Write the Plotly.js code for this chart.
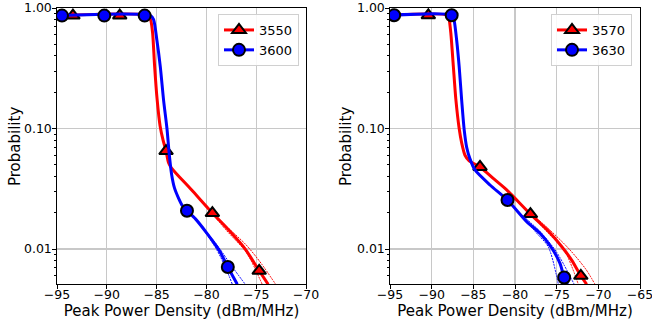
<!DOCTYPE html>
<html>
<head>
<meta charset="utf-8">
<script src="https://cdn.plot.ly/plotly-3.0.1.min.js"></script>
<style>html,body{margin:0;padding:0;background:#fff;}#chart{width:652px;height:324px;}</style>
</head>
<body>
<div id="chart"></div>
<script>
// ---------- Left panel: 3550 (red) & 3600 (blue) ----------
const leftRedX  = [-95, -85.8, -85.6, -85.4, -85.2, -84.95, -84.65, -84.35, -84.05, -83.8, -83.5, -81.5, -79.4, -77.8, -76.1, -74.7, -73.8];
const leftRedY  = [0.865, 0.865, 0.80, 0.62, 0.33, 0.175, 0.105, 0.080, 0.065, 0.052, 0.047, 0.031, 0.0199, 0.0145, 0.0100, 0.0066, 0.0051];
const leftRedMkX = [-93.4, -88.7, -84.05, -79.4, -74.7];
const leftRedMkY = [0.865, 0.865, 0.065, 0.0199, 0.0066];
const leftRedHiX = [-80.5, -78, -76, -74.5, -73.05];
const leftRedHiY = [0.0251, 0.0155, 0.0108, 0.0076, 0.0051];
const leftRedLoX = [-80.5, -78, -76, -74.4];
const leftRedLoY = [0.0251, 0.0143, 0.0094, 0.0051];

const leftBlueX = [-95, -85.6, -85.3, -84.97, -84.63, -84.3, -83.96, -83.72, -83.5, -83.2, -82.8, -82.4, -81.95, -81.1, -80.0, -78.7, -77.85, -76.9];
const leftBlueY = [0.865, 0.865, 0.80, 0.54, 0.326, 0.172, 0.100, 0.060, 0.042, 0.032, 0.0265, 0.0228, 0.0208, 0.0178, 0.0137, 0.0097, 0.0071, 0.0051];
const leftBlueMkX = [-94.5, -90.25, -86.2, -81.95, -77.85];
const leftBlueMkY = [0.865, 0.865, 0.865, 0.0208, 0.0071];
const leftBlueHiX = [-81, -79, -77.5, -76.1];
const leftBlueHiY = [0.0175, 0.0110, 0.0073, 0.0051];
const leftBlueLoX = [-81, -79, -78, -77.4];
const leftBlueLoY = [0.0175, 0.0100, 0.0068, 0.0051];

// ---------- Right panel: 3570 (red) & 3630 (blue) ----------
const rightRedX = [-95, -88.1, -87.9, -87.7, -87.4, -87.1, -86.7, -86.4, -86.0, -85.5, -84.2, -82.5, -81.0, -78.15, -76.0, -74.5, -73.2, -72.1, -71.4];
const rightRedY = [0.87, 0.87, 0.80, 0.62, 0.33, 0.175, 0.100, 0.076, 0.060, 0.054, 0.048, 0.038, 0.031, 0.0195, 0.0141, 0.0107, 0.0081, 0.0060, 0.0051];
const rightRedMkX = [-90.4, -84.2, -78.15, -72.1];
const rightRedMkY = [0.87, 0.048, 0.0195, 0.0060];
const rightRedHiX = [-79, -76, -73.5, -71.5, -70.4];
const rightRedHiY = [0.0224, 0.0148, 0.0100, 0.0068, 0.0051];
const rightRedLoX = [-79, -76, -74, -72.4];
const rightRedLoY = [0.0224, 0.0135, 0.0095, 0.0051];

const rightBlueX = [-95, -87.5, -87.3, -87.0, -86.7, -86.4, -86.1, -85.8, -85.4, -84.8, -83.0, -80.9, -78.6, -77.0, -75.6, -74.6, -74.1, -73.7];
const rightBlueY = [0.87, 0.87, 0.79, 0.54, 0.326, 0.172, 0.098, 0.070, 0.056, 0.0453, 0.034, 0.0255, 0.0169, 0.0135, 0.0102, 0.0076, 0.0058, 0.0051];
const rightBlueMkX = [-94.5, -87.6, -80.9, -74.1];
const rightBlueMkY = [0.87, 0.87, 0.0255, 0.0058];
const rightBlueHiX = [-79.5, -77, -75, -72.9];
const rightBlueHiY = [0.0200, 0.0140, 0.0094, 0.0051];
const rightBlueLoX = [-79.5, -77.5, -76, -74.8];
const rightBlueLoY = [0.0200, 0.0138, 0.0104, 0.0051];

const leftNames = ['3550', '3600'];
const rightNames = ['3570', '3630'];
const leftXTicks = [-95, -90, -85, -80, -75, -70];
const rightXTicks = [-95, -90, -85, -80, -75, -70, -65];
const yTickVals = [0.01, 0.1, 1];
const yTickText = ['0.01', '0.10', '1.00'];
const xTitle = 'Peak Power Density (dBm/MHz)';
const yTitle = 'Probability';

const RED = '#ff0000', BLUE = '#0000ff';
const FONT = 'DejaVu Sans, Verdana, sans-serif';

function series(name, color, symbol, xa, ya, lx, ly, mx, my, hx, hy, lox, loy, legend) {
  const ax = {xaxis: xa, yaxis: ya};
  const mk = {color: color, symbol: symbol, size: 12, line: {color: 'black', width: 2}};
  const band = {color: color, width: 1, dash: '2px,1px', shape: 'spline', smoothing: 0.8};
  return [
    Object.assign({x: hx, y: hy, mode: 'lines', line: band, showlegend: false, hoverinfo: 'skip'}, ax),
    Object.assign({x: lox, y: loy, mode: 'lines', line: band, showlegend: false, hoverinfo: 'skip'}, ax),
    Object.assign({x: lx, y: ly, mode: 'lines', line: {color: color, width: 3, shape: 'spline', smoothing: 0.7}, showlegend: false}, ax),
    Object.assign({x: mx, y: my, mode: 'markers', marker: mk, showlegend: false}, ax),
    Object.assign({x: [null], y: [null], mode: 'lines+markers', name: name, legend: legend,
      line: {color: color, width: 3}, marker: mk}, ax)
  ];
}

const data = [].concat(
  series(leftNames[0], RED, 'triangle-up', 'x', 'y', leftRedX, leftRedY, leftRedMkX, leftRedMkY, leftRedHiX, leftRedHiY, leftRedLoX, leftRedLoY, 'legend'),
  series(leftNames[1], BLUE, 'circle', 'x', 'y', leftBlueX, leftBlueY, leftBlueMkX, leftBlueMkY, leftBlueHiX, leftBlueHiY, leftBlueLoX, leftBlueLoY, 'legend'),
  series(rightNames[0], RED, 'triangle-up', 'x2', 'y2', rightRedX, rightRedY, rightRedMkX, rightRedMkY, rightRedHiX, rightRedHiY, rightRedLoX, rightRedLoY, 'legend2'),
  series(rightNames[1], BLUE, 'circle', 'x2', 'y2', rightBlueX, rightBlueY, rightBlueMkX, rightBlueMkY, rightBlueHiX, rightBlueHiY, rightBlueLoX, rightBlueLoY, 'legend2')
);

const W = 652, H = 324;
function xAxis(domain, range, ticks, anchor) {
  return {
    domain: domain, range: range, anchor: anchor,
    tickvals: ticks, ticktext: ticks.map(v => (v < 0 ? '\u2212' + Math.abs(v) : String(v))),
    showgrid: true, gridcolor: '#c8c8c8', gridwidth: 1.2, zeroline: false,
    showline: true, linecolor: 'black', linewidth: 1.2, mirror: true,
    ticks: 'outside', ticklen: 3.5, tickcolor: 'black', tickwidth: 1,
    ticklabelstandoff: -5, ticklabeloverflow: 'allow',
    tickfont: {family: FONT, size: 12.5, color: 'black'},
    title: {text: xTitle, font: {family: FONT, size: 15, color: 'black'}, standoff: 0},
    automargin: false, fixedrange: true
  };
}
function yAxis(anchor) {
  return {
    type: 'log', domain: [1 - 284 / H, 1 - 8 / H], range: [-2.29, 0], anchor: anchor,
    tickvals: yTickVals, ticktext: yTickText,
    showgrid: true, gridcolor: '#c8c8c8', gridwidth: 1.2, zeroline: false,
    showline: true, linecolor: 'black', linewidth: 1.2, mirror: true,
    ticks: 'outside', ticklen: 3.5, tickcolor: 'black', tickwidth: 1,
    ticklabelstandoff: -2,
    minor: {ticks: 'outside', ticklen: 2, tickcolor: 'black', showgrid: false, dtick: 'D1'},
    tickfont: {family: FONT, size: 12.5, color: 'black'},
    automargin: false, fixedrange: true
  };
}
const legendStyle = (xr) => ({
  x: xr, xanchor: 'right', y: 1 - 14 / H, yanchor: 'top',
  bgcolor: 'rgba(255,255,255,0.85)', bordercolor: '#d0d0d0', borderwidth: 1,
  font: {family: FONT, size: 13, color: 'black'}, tracegroupgap: 0, itemwidth: 30
});
const yTitleAnn = (xpx) => ({
  text: yTitle, xref: 'paper', yref: 'paper', x: xpx / W, y: 1 - 147 / H,
  xanchor: 'center', yanchor: 'middle', textangle: -90, showarrow: false,
  font: {family: FONT, size: 15, color: 'black'}
});

const layout = {
  width: W, height: H,
  margin: {l: 0, r: 0, t: 0, b: 0},
  paper_bgcolor: 'white', plot_bgcolor: 'white',
  showlegend: true,
  xaxis: xAxis([57 / W, 306 / W], [-95.0001, -69.9999], leftXTicks, 'y'),
  yaxis: yAxis('x'),
  xaxis2: xAxis([390 / W, 640 / W], [-95.0001, -64.9999], rightXTicks, 'y2'),
  yaxis2: yAxis('x2'),
  legend: legendStyle(299 / W),
  legend2: legendStyle(632 / W),
  annotations: [yTitleAnn(15), yTitleAnn(346)]
};

Plotly.newPlot('chart', data, layout, {staticPlot: true, displayModeBar: false});
</script>
</body>
</html>
